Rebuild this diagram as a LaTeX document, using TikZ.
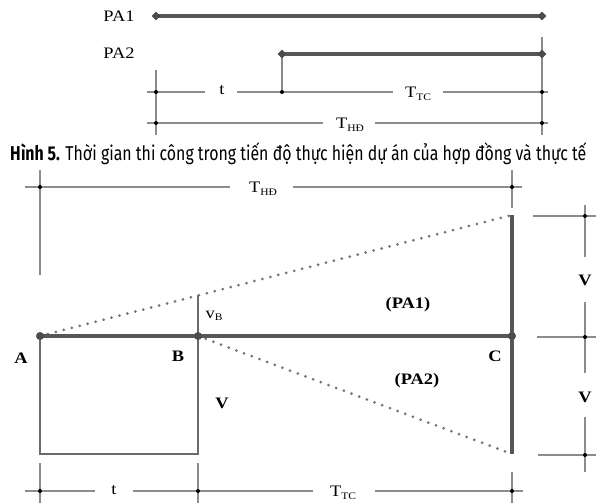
\documentclass[tikz,border=0pt]{standalone}
\usepackage{fontspec}
\setmainfont{Liberation Serif}
\newfontfamily\capfont{Fira Sans}
\usetikzlibrary{shapes.geometric}
\newlength{\mycapw}
\newcommand{\lowsub}[1]{\raisebox{-0.35ex}{\fontsize{10}{10}\selectfont #1}}
\newcommand{\hs}[1]{\scalebox{1.15}[1]{#1}}
\newcommand{\captext}{{\bfseries Hình 5.} Thời gian thi công trong tiến độ thực hiện dự án của hợp đồng và thực tế}
\begin{document}
\settowidth{\mycapw}{\capfont\fontsize{20}{24}\selectfont\captext}%
\pgfmathsetmacro{\capsx}{576/\mycapw}%
\begin{tikzpicture}[x=1pt,y=-1pt,
  thin line/.style={draw=black!45,line width=1.6pt},
  thick line/.style={draw=black!66,line width=3.6pt},
  rect line/.style={draw=black!58,line width=2.2pt},
  dot line/.style={draw=black!55,line width=3pt,line cap=round,dash pattern=on 0pt off 8.2pt},
  jdot/.style={circle,fill=black,inner sep=0pt,minimum size=4pt},
  pdot/.style={circle,fill=black!70,inner sep=0pt,minimum size=8pt},
  dia/.style={diamond,fill=black!70,inner sep=0pt,minimum width=9pt,minimum height=9pt},
  lbl/.style={font=\fontsize{16}{16}\selectfont,inner sep=0pt},
  blbl/.style={font=\fontsize{16}{16}\selectfont\bfseries,inner sep=0pt}]
\useasboundingbox (0,0) rectangle (596,503);
% ---------- top diagram ----------
\node[lbl] (pa1) at (119,16) {\hs{PA1}};
\node[lbl] (pa2) at (119,53) {\hs{PA2}};
\coordinate (v1t) at (542,37);
\coordinate (v1b) at (542,135);
\coordinate (v2t) at (282,54);
\coordinate (v2b) at (282,92);
\coordinate (v3t) at (156,70);
\coordinate (v3b) at (156,135);
\draw[thin line] (v1t) -- (v1b);
\draw[thin line] (v3t) -- (v3b);
\coordinate (r1a) at (147,92);
\coordinate (r1b) at (205,92);
\coordinate (r1c) at (237,92);
\coordinate (r1d) at (393,92);
\coordinate (r1e) at (443,92);
\coordinate (r1f) at (548,92);
\node[lbl] (tt) at (222,90) {\hs{t}};
\node[lbl] (ttc) at (418,94) {\hs{T\lowsub{TC}}};
\draw[thin line] (r1a) -- (r1b) (r1c) -- (r1d) (r1e) -- (r1f);
\draw[thin line] (v2t) -- (v2b);
\coordinate (r2a) at (147,123);
\coordinate (r2b) at (323,123);
\coordinate (r2c) at (375,123);
\coordinate (r2d) at (548,123);
\node[lbl] (thd) at (350,125) {\hs{T\lowsub{HĐ}}};
\draw[thin line] (r2a) -- (r2b) (r2c) -- (r2d);
\node[jdot] (j1) at (156,92) {};
\node[jdot] (j2) at (282,92) {};
\node[jdot] (j3) at (542,92) {};
\node[jdot] (j4) at (156,123) {};
\node[jdot] (j5) at (542,123) {};
\coordinate (p1a) at (156,16);
\coordinate (p1b) at (542,16);
\coordinate (p2a) at (282,54);
\coordinate (p2b) at (542,54);
\draw[thick line] (p1a) -- (p1b);
\draw[thick line] (p2a) -- (p2b);
\node[dia] at (p1a) {};
\node[dia] at (p1b) {};
\node[dia] at (p2a) {};
\node[dia] at (p2b) {};
% ---------- caption ----------
\node[anchor=base west,inner sep=0pt] (cap) at (10,160) {\scalebox{\capsx}[1]{\capfont\fontsize{20}{24}\selectfont\captext}};
% ---------- lower diagram ----------
\coordinate (h1) at (25,187);
\coordinate (h2) at (230,187);
\coordinate (h3) at (293,187);
\coordinate (h4) at (522,187);
\node[lbl] (thd2) at (263,189) {\hs{T\lowsub{HĐ}}};
\draw[thin line] (h1) -- (h2) (h3) -- (h4);
\coordinate (va1) at (40,170);
\coordinate (va2) at (40,275);
\coordinate (vc1) at (512,170);
\coordinate (vc2) at (512,208);
\draw[thin line] (va1) -- (va2);
\draw[thin line] (vc1) -- (vc2);
\node[jdot] at (40,187) {};
\node[jdot] at (512,187) {};
\coordinate (A) at (40,336);
\coordinate (B) at (198,336);
\coordinate (C) at (512,336);
\coordinate (Btop) at (198,295);
\coordinate (Ctop) at (512,215);
\coordinate (Cbot) at (512,454);
\coordinate (Abot) at (40,454);
\coordinate (Bbot) at (198,454);
\draw[rect line] (A) -- (Abot) -- (Bbot) -- (B);
\draw[rect line] (B) -- (Btop);
\draw[dot line] (A) -- (Ctop);
\draw[dot line] (B) -- (Cbot);
\draw[thick line,line width=4pt] (A) -- (C);
\draw[thick line,line width=4pt] (Ctop) -- (Cbot);
\node[pdot] at (A) {};
\node[pdot] at (B) {};
\node[pdot] at (C) {};
\node[blbl] (la) at (21,358) {\hs{A}};
\node[blbl] (lb) at (178,356) {\hs{B}};
\node[blbl] (lc) at (495,356) {\hs{C}};
\node[blbl] (lv) at (222,403) {\hs{V}};
\node[lbl] (lvb) at (214,316) {\hs{v\lowsub{B}}};
\node[blbl] (lpa1) at (408,305) {\hs{(PA1)}};
\node[blbl] (lpa2) at (417,381) {\hs{(PA2)}};
\coordinate (rv0) at (585,205);
\coordinate (rv1) at (585,257);
\coordinate (rv2) at (585,302);
\coordinate (rv3) at (585,373);
\coordinate (rv4) at (585,417);
\coordinate (rv5) at (585,472);
\node[blbl] (lv1) at (585,280) {\hs{V}};
\node[blbl] (lv2) at (585,397) {\hs{V}};
\draw[thin line] (rv0) -- (rv1) (rv2) -- (rv3) (rv4) -- (rv5);
\coordinate (rt1) at (533,216);
\coordinate (rt1e) at (596,216);
\coordinate (rt2) at (537,337);
\coordinate (rt2e) at (596,337);
\coordinate (rt3) at (538,455);
\coordinate (rt3e) at (596,455);
\draw[thin line] (rt1) -- (rt1e) (rt2) -- (rt2e) (rt3) -- (rt3e);
\node[jdot] at (585,216) {};
\node[jdot] at (585,337) {};
\node[jdot] at (585,455) {};
\coordinate (b1) at (25,491);
\coordinate (b2) at (95,491);
\coordinate (b3) at (133,491);
\coordinate (b4) at (313,491);
\coordinate (b5) at (375,491);
\coordinate (b6) at (523,491);
\node[lbl] (lt) at (114,490) {\hs{t}};
\node[lbl] (lttc) at (343,493) {\hs{T\lowsub{TC}}};
\draw[thin line] (b1) -- (b2) (b3) -- (b4) (b5) -- (b6);
\coordinate (bv1) at (40,463);
\coordinate (bv1e) at (40,503);
\coordinate (bv2) at (198,463);
\coordinate (bv2e) at (198,503);
\coordinate (bv3) at (512,472);
\coordinate (bv3e) at (512,503);
\draw[thin line] (bv1) -- (bv1e) (bv2) -- (bv2e) (bv3) -- (bv3e);
\node[jdot] at (40,491) {};
\node[jdot] at (198,491) {};
\node[jdot] at (512,491) {};
\end{tikzpicture}
\end{document}
